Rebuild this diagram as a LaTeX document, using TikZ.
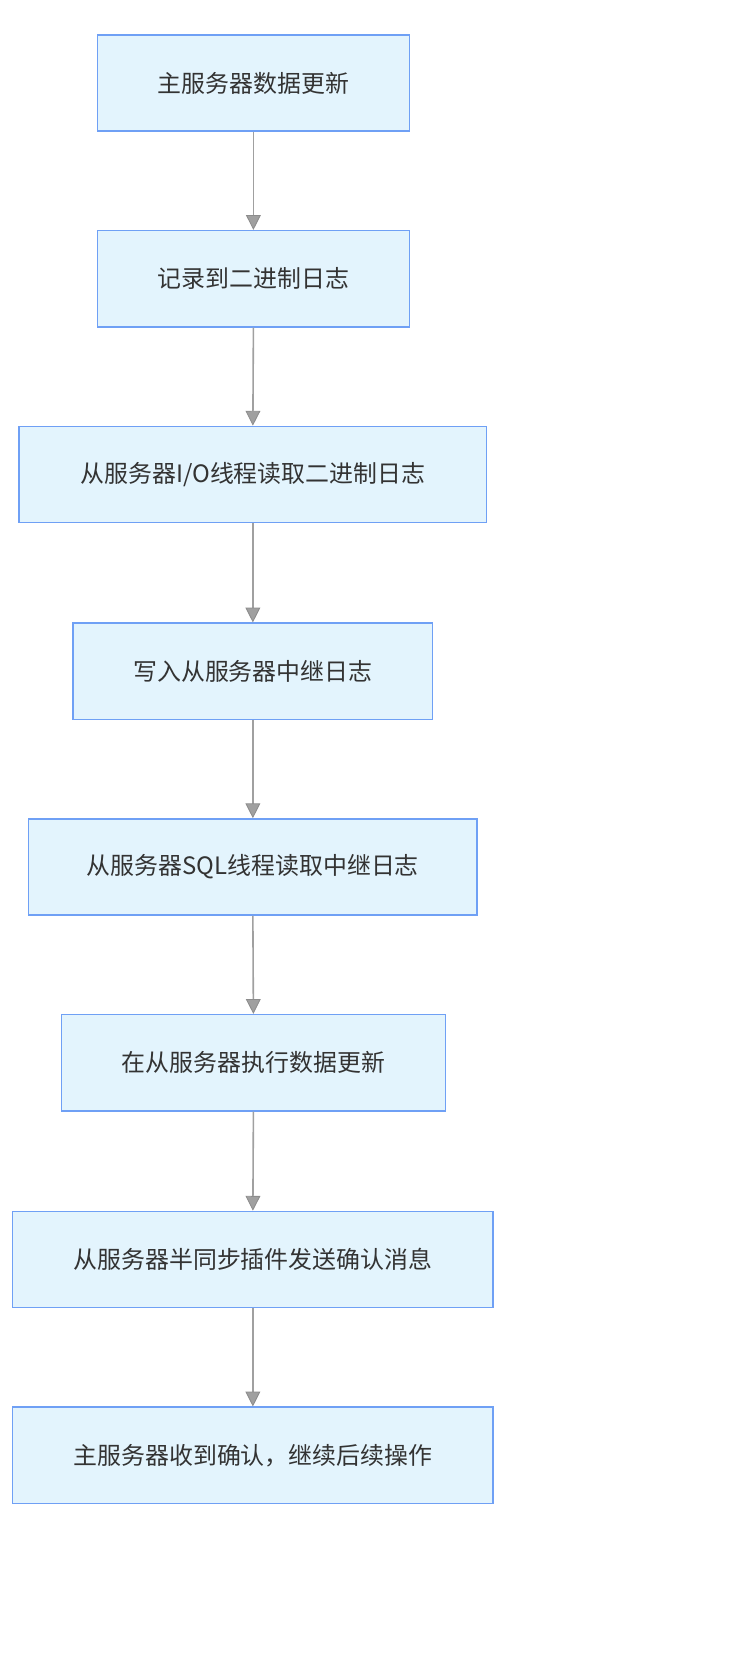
\documentclass[tikz,border=0pt]{standalone}
\usepackage{fontspec}
\setmainfont{Noto Sans CJK SC}
\usetikzlibrary{arrows.meta}
\definecolor{boxfill}{HTML}{E3F4FD}
\definecolor{boxline}{HTML}{6FA0F5}
\definecolor{lineg}{HTML}{A0A0A0}
\definecolor{tipg}{HTML}{8C8C8C}
\definecolor{txt}{HTML}{333333}
\begin{document}
\begin{tikzpicture}[x=1pt,y=-1pt,
  stepbox/.style={draw=boxline,line width=1.4pt,fill=boxfill,minimum height=91pt,inner sep=0pt,text=txt,font=\fontsize{22.6}{27}\selectfont},
  flow/.style={draw=lineg,line width=1.5pt,-{Triangle[length=14pt,width=14pt,fill=lineg,color=tipg,line width=0.8pt]}}]
\useasboundingbox (0,0) rectangle (709.8,1568);
\node[stepbox,minimum width=295pt] (n1) at (239.5,78.5) {主服务器数据更新};
\node[stepbox,minimum width=295pt] (n2) at (239.5,263.5) {记录到二进制日志};
\node[stepbox,minimum width=442pt] (n3) at (239,448.5) {从服务器I/O线程读取二进制日志};
\node[stepbox,minimum width=340pt] (n4) at (239,634.5) {写入从服务器中继日志};
\node[stepbox,minimum width=424pt] (n5) at (239,819.5) {从服务器SQL线程读取中继日志};
\node[stepbox,minimum width=363pt] (n6) at (239.5,1004.5) {在从服务器执行数据更新};
\node[stepbox,minimum width=454pt] (n7) at (239,1190.5) {从服务器半同步插件发送确认消息};
\node[stepbox,minimum width=454pt] (n8) at (239,1375.5) {主服务器收到确认，继续后续操作};
\foreach \a/\b in {n1/n2,n2/n3,n3/n4,n4/n5,n5/n6,n6/n7,n7/n8}
  \draw[flow] (\a.south) -- (\b.north);
\end{tikzpicture}
\end{document}
